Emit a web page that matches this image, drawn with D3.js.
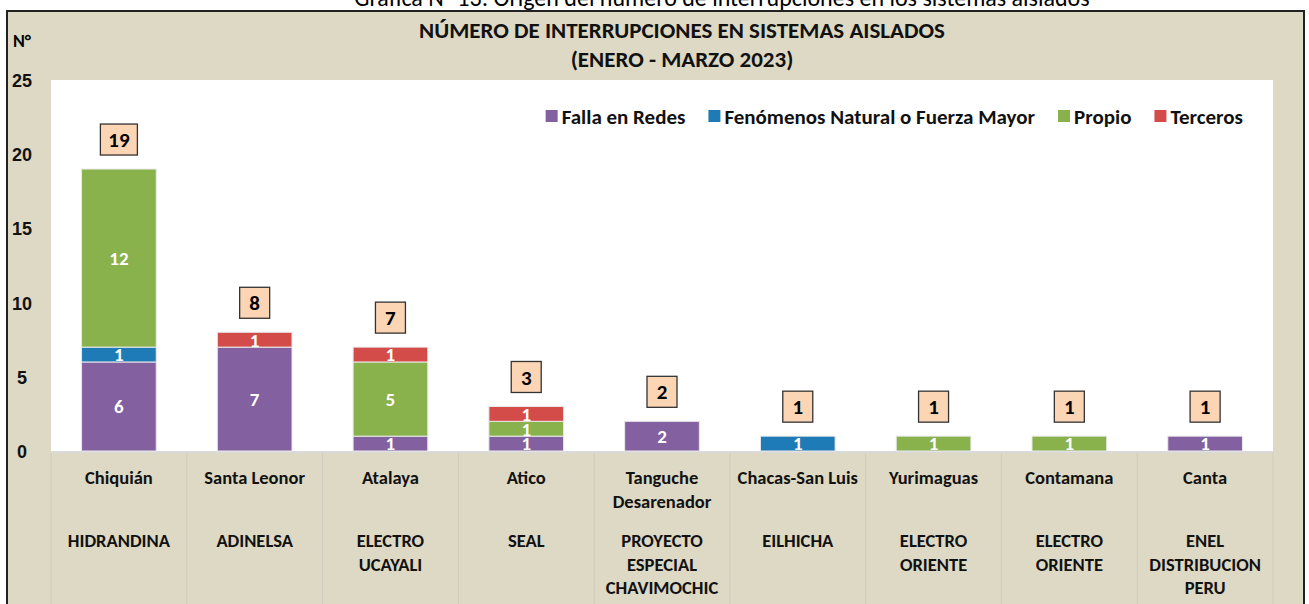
<!DOCTYPE html>
<html><head><meta charset="utf-8">
<script src="https://cdn.jsdelivr.net/npm/d3@7"></script>
<style>
html,body{margin:0;padding:0;background:#fff;overflow:hidden;}
svg{display:block;font-family:Carlito,Calibri,Lato,"Open Sans",sans-serif;}
</style></head>
<body>
<svg id="c" width="1309" height="604"></svg>
<script>
const categories = ["Chiquián","Santa Leonor","Atalaya","Atico","Tanguche\nDesarenador","Chacas-San Luis","Yurimaguas","Contamana","Canta"];
const companies = ["HIDRANDINA","ADINELSA","ELECTRO\nUCAYALI","SEAL","PROYECTO\nESPECIAL\nCHAVIMOCHIC","EILHICHA","ELECTRO\nORIENTE","ELECTRO\nORIENTE","ENEL\nDISTRIBUCION\nPERU"];
const seriesNames = ["Falla en Redes","Fenómenos Natural o Fuerza Mayor","Propio","Terceros"];
const fallaRedes = [6,7,1,1,2,0,0,0,1];
const fenomenos  = [1,0,0,0,0,1,0,0,0];
const propio     = [12,0,5,1,0,0,1,1,0];
const terceros   = [0,1,1,1,0,0,0,0,0];
const seriesColors = ["#8360A0","#1F7BB6","#89B14C","#D44C49"];
const yTicks = [0,5,10,15,20,25];
const chartTitle = ["NÚMERO DE INTERRUPCIONES EN SISTEMAS AISLADOS","(ENERO - MARZO 2023)"];
const pageTitle = "Gráfica N° 13: Origen del número de interrupciones en los sistemas aislados";

const svg = d3.select("#c");
const plot = {left:51, right:1273, top:80, bottom:451};

// page caption (clipped at top)
svg.append("text").attr("x",722).attr("y",6).attr("text-anchor","middle")
  .attr("font-size",24).attr("fill","#000").text(pageTitle);

// outer frame
svg.append("rect").attr("x",7).attr("y",11).attr("width",1297).attr("height",600)
  .attr("fill","#DDD9C4").attr("stroke","#222").attr("stroke-width",2);

// plot area
svg.append("rect").attr("x",plot.left).attr("y",plot.top)
  .attr("width",plot.right-plot.left).attr("height",plot.bottom-plot.top).attr("fill","#fff");

// titles
chartTitle.forEach((t,i)=>{
  svg.append("text").attr("x",682).attr("y",38+i*29).attr("text-anchor","middle")
    .attr("font-weight","bold").attr("font-size",23).attr("fill","#111").text(t);
});
svg.append("text").attr("x",22).attr("y",47).attr("text-anchor","middle")
  .attr("font-weight","bold").attr("font-size",18).text("N°");

const x = d3.scaleBand().domain(categories).range([plot.left,plot.right]).paddingInner(0.45).paddingOuter(0.225);
const y = d3.scaleLinear().domain([0,25]).range([plot.bottom,plot.top]);

// y axis
const yAxis = d3.axisLeft(y).tickValues(yTicks).tickSize(0).tickPadding(0);
const ya = svg.append("g").attr("transform","translate(22,0)").call(yAxis);
ya.select(".domain").remove();
ya.selectAll("text").attr("text-anchor","middle").attr("font-weight","bold")
  .attr("font-size",18).attr("font-family",null).attr("fill","#111").attr("dy","0.36em");

// x axis table
const gridC = "#CFCCC0";
svg.append("line").attr("x1",plot.left).attr("x2",plot.right).attr("y1",plot.bottom+1).attr("y2",plot.bottom+1)
  .attr("stroke","#d9d9d9").attr("stroke-width",2);
const bounds = categories.map(c=>x(c)-x.bandwidth()*0.45/0.55/2);
bounds.push(plot.right);
svg.selectAll("line.vb").data(bounds).join("line").attr("class","vb")
  .attr("x1",d=>d).attr("x2",d=>d).attr("y1",plot.bottom+2).attr("y2",604)
  .attr("stroke",gridC).attr("stroke-width",1);

const xAxis = d3.axisBottom(x).tickSize(0).tickFormat("");
svg.append("g").attr("transform",`translate(0,${plot.bottom})`).call(xAxis).select(".domain").remove();

categories.forEach((c,i)=>{
  const cx = x(c)+x.bandwidth()/2;
  const t = svg.append("text").attr("text-anchor","middle").attr("font-weight","bold").attr("font-size",18.5).attr("fill","#111");
  c.split("\n").forEach((ln,j)=>t.append("tspan").attr("x",cx).attr("y",484+j*23.5).text(ln));
  const t2 = svg.append("text").attr("text-anchor","middle").attr("font-weight","bold").attr("font-size",18.5).attr("fill","#111");
  companies[i].split("\n").forEach((ln,j)=>t2.append("tspan").attr("x",cx).attr("y",547+j*23.5).text(ln));
});

// stack
const rows = categories.map((c,i)=>({cat:c, s0:fallaRedes[i], s1:fenomenos[i], s2:propio[i], s3:terceros[i]}));
const stack = d3.stack().keys(["s0","s1","s2","s3"]);
const layers = stack(rows);
const g = svg.append("g");
layers.forEach((layer,k)=>{
  layer.forEach(d=>{
    const v = d[1]-d[0];
    if(v<=0) return;
    g.append("rect").attr("x",x(d.data.cat)).attr("width",x.bandwidth())
      .attr("y",y(d[1])).attr("height",y(d[0])-y(d[1]))
      .attr("fill",seriesColors[k]).attr("stroke","#e9e9e9").attr("stroke-width",1);
  });
});
layers.forEach((layer,k)=>{
  layer.forEach(d=>{
    const v = d[1]-d[0];
    if(v<=0) return;
    g.append("text").attr("x",x(d.data.cat)+x.bandwidth()/2).attr("y",(y(d[0])+y(d[1]))/2)
      .attr("dy","0.36em").attr("text-anchor","middle").attr("font-weight","bold")
      .attr("font-size",19).attr("fill","#fff").text(v);
  });
});

// totals
rows.forEach(r=>{
  const tot = r.s0+r.s1+r.s2+r.s3;
  const cx = x(r.cat)+x.bandwidth()/2;
  const bw = String(tot).length>1?37:30;
  const by = y(tot)-14-31;
  svg.append("rect").attr("x",cx-bw/2).attr("y",by).attr("width",bw).attr("height",31)
    .attr("fill","#FCD5B5").attr("stroke","#333").attr("stroke-width",1.3);
  svg.append("text").attr("x",cx).attr("y",by+15.5).attr("dy","0.36em").attr("text-anchor","middle")
    .attr("font-weight","bold").attr("font-size",21).attr("fill","#000").text(tot);
});

// legend (right-aligned)
const lg = svg.append("g");
let items = [];
seriesNames.forEach((n,i)=>{
  const it = lg.append("g");
  it.append("rect").attr("x",0).attr("y",-6).attr("width",12).attr("height",12).attr("fill",seriesColors[i]);
  const tx = it.append("text").attr("x",16).attr("y",0).attr("dy","0.36em").attr("font-weight","bold")
    .attr("font-size",21).attr("fill","#111").text(n);
  items.push({it, w:16+tx.node().getComputedTextLength()});
});
const gap = 23;
const totalW = d3.sum(items,d=>d.w)+gap*(items.length-1);
let lx = 1243-totalW;
items.forEach(d=>{ d.it.attr("transform",`translate(${lx},116)`); lx += d.w+gap; });
</script>
</body></html>
